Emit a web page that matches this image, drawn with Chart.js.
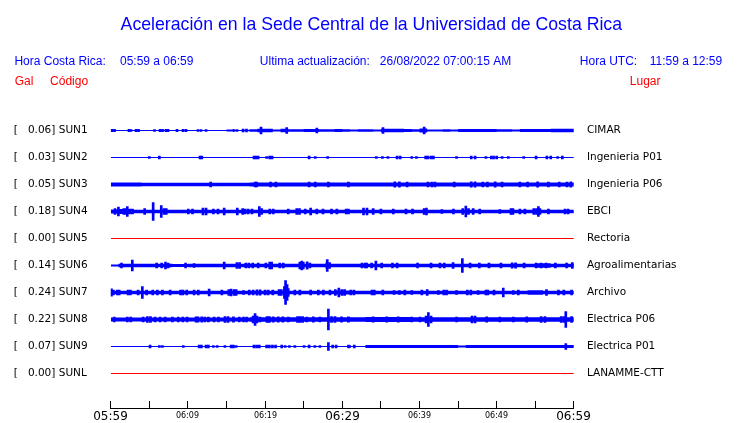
<!DOCTYPE html>
<html><head><meta charset="utf-8">
<script src="https://cdn.jsdelivr.net/npm/chart.js@4/dist/chart.umd.min.js"></script>
<style>html,body{margin:0;padding:0;background:#fff}#wrap{position:relative;width:740px;height:423px}</style>
</head><body><div id="wrap"><canvas id="c" width="740" height="423"></canvas></div>
<script>
// ---------- DATA ----------
const chartTitle = 'Aceleración en la Sede Central de la Universidad de Costa Rica';
const headerTexts = ['Hora Costa Rica:', '05:59 a 06:59', 'Ultima actualización:', '26/08/2022 07:00:15 AM', 'Hora UTC:', '11:59 a 12:59'];
const columnTexts = ['Gal', 'Código', 'Lugar'];
const stations = ['SUN1','SUN2','SUN3','SUN4','SUN5','SUN6','SUN7','SUN8','SUN9','SUNL'];
const places = ['CIMAR','Ingenieria P01','Ingenieria P06','EBCI','Rectoria','Agroalimentarias','Archivo','Electrica P06','Electrica P01','LANAMME-CTT'];
const peakGal = [0.06, 0.03, 0.05, 0.18, 0.00, 0.14, 0.24, 0.22, 0.07, 0.00];
const timeTickMinutes = [0,5,10,15,20,25,30,35,40,45,50,55,60];
const timeTickLabels = ['05:59','','06:09','','06:19','','06:29','','06:39','','06:49','','06:59'];

// trace envelopes (half amplitude per 1-minute bin, display counts)
const sun1Env = [0.5,0.5,0.5,0.5,0.5,0.5,0.5,0.5,0.5,0.5, 0.5,0.5,0.5,0.5,0.5,1.0,0.5,0.8,1.3,1.7,
                 1.7,1.1,1.8,1.2,1.3,1.4,1.6,1.3,1.2,1.4, 1.2,1.0,1.3,1.3,1.0,1.7,1.7,1.7,1.6,1.3,
                 2.0,1.0,1.0,1.3,1.0,1.5,1.5,1.5,1.5,1.5, 1.3,1.3,1.0,1.5,1.5,1.5,1.6,1.8,1.8,1.8];
const sun2Env = [0.5,0.5,0.5,0.5,0.5,0.5,0.5,0.5,0.5,0.5, 0.5,0.5,0.5,0.5,0.5,0.5,0.5,0.5,0.5,0.5,
                 0.5,0.5,0.5,0.5,0.5,0.5,0.5,0.5,0.5,0.5, 0.5,0.5,0.5,0.5,0.5,0.5,0.5,0.5,0.5,0.5,
                 0.5,0.5,0.5,0.5,0.5,0.5,0.5,0.5,0.5,0.5, 0.5,0.5,0.5,0.5,0.5,0.5,0.5,0.5,0.5,0.5];
const sun3Env = [2.0,2.0,2.0,1.9,1.7,1.7,1.7,1.7,1.7,1.7, 1.7,1.7,1.7,1.7,1.7,1.7,1.7,1.7,2.0,2.0,
                 2.0,2.0,2.0,2.0,2.0,2.0,2.0,2.0,2.0,2.0, 2.0,2.0,2.0,2.0,2.0,2.0,2.0,2.0,2.0,2.0,
                 2.0,2.0,2.0,2.0,2.0,2.0,2.0,2.0,2.0,2.0, 2.0,2.0,2.0,2.0,2.0,2.0,2.0,2.0,2.0,2.0];
const sun4Env = [2.0,2.5,2.5,1.7,1.7,1.7,1.7,1.7,1.7,1.7, 1.7,1.7,1.7,1.7,1.7,1.7,1.7,1.7,1.7,1.7,
                 1.7,1.7,1.7,1.7,1.7,1.7,1.7,1.7,1.7,1.7, 1.7,1.7,1.7,1.7,1.7,1.7,1.7,1.7,1.7,1.7,
                 1.7,1.7,1.7,1.7,1.7,1.7,1.7,1.7,1.7,1.7, 1.7,1.7,1.7,1.7,1.7,1.7,1.7,1.7,1.7,1.7];
const sun5Env = [0,0,0,0,0,0,0,0,0,0, 0,0,0,0,0,0,0,0,0,0, 0,0,0,0,0,0,0,0,0,0,
                 0,0,0,0,0,0,0,0,0,0, 0,0,0,0,0,0,0,0,0,0, 0,0,0,0,0,0,0,0,0,0];
const sun6Env = [1.1,1.8,1.7,1.7,1.7,1.7,1.7,1.7,1.5,1.5, 1.7,1.7,1.7,1.7,1.7,1.7,1.7,1.7,1.7,1.7,
                 1.7,1.7,1.7,1.7,1.7,1.7,1.7,1.7,1.7,1.7, 1.7,1.7,1.7,1.7,1.7,1.7,1.7,1.7,1.7,1.7,
                 1.7,1.7,1.7,1.7,1.7,1.7,1.7,1.7,1.7,1.7, 1.7,1.7,1.7,1.7,1.7,2.2,2.2,1.7,1.7,1.7];
const sun7Env = [1.7,1.7,1.7,1.7,1.7,1.7,1.7,1.7,1.7,1.7, 1.7,1.7,1.7,1.7,1.7,1.7,1.7,1.7,1.7,1.7,
                 1.7,1.7,1.7,1.7,1.7,1.7,1.7,1.7,1.7,2.0, 2.0,1.7,1.7,1.7,1.7,1.7,1.7,1.7,1.7,1.7,
                 1.7,1.7,1.7,1.7,1.7,1.7,1.7,1.7,1.7,1.7, 1.7,1.7,1.7,1.7,2.3,2.3,1.7,1.7,1.7,1.7];
const sun8Env = [2.0,2.0,2.0,2.0,2.0,2.0,2.0,2.0,2.0,2.0, 2.0,2.0,2.0,2.0,2.0,2.0,2.0,2.0,2.3,2.3,
                 2.3,2.3,2.3,2.3,2.3,2.3,2.3,2.3,2.3,2.3, 2.3,2.3,2.3,2.5,2.5,2.5,2.5,2.5,2.5,2.3,
                 2.3,2.3,2.3,2.3,2.3,2.3,2.3,2.3,2.3,2.3, 2.3,2.3,2.3,2.3,2.3,2.3,2.3,2.3,2.3,2.3];
const sun9Env = [0.5,0.5,0.5,0.5,0.5,0.5,0.5,0.5,0.5,0.5, 0.5,0.5,0.5,0.5,0.5,0.5,0.5,0.5,0.5,0.5,
                 0.5,0.5,0.5,0.5,0.5,0.5,0.5,0.5,0.5,0.5, 0.5,0.5,0.5,1.4,1.4,1.4,1.4,1.4,1.4,1.4,
                 1.4,1.4,1.4,1.4,1.4,1.1,1.5,1.5,1.5,1.5, 1.5,1.5,1.5,1.5,1.5,1.5,1.5,1.5,1.5,1.5];
const sunLEnv = [0,0,0,0,0,0,0,0,0,0, 0,0,0,0,0,0,0,0,0,0, 0,0,0,0,0,0,0,0,0,0,
                 0,0,0,0,0,0,0,0,0,0, 0,0,0,0,0,0,0,0,0,0, 0,0,0,0,0,0,0,0,0,0];

// short bursts: [minute after 05:59, half amplitude]
const sun1Spikes = [[0.17,1.2],[0.49,1.2],[2.37,1.2],[2.63,1.0],[3.28,1.2],[3.6,1.2],[5.67,1.0],[6.39,1.2],[6.71,1.2],[7.16,1.2],[7.42,1.2],[8.59,1.2],[9.37,1.2],[9.75,1.2],[11.31,1.0],[11.7,1.0],[12.35,1.0],[15.97,1.0],[16.36,1.0],[17.14,1.5],[17.59,1.5],[19.47,3.3],[22.8,3.0],[26.7,2.5],[35.27,3.0],[40.6,3.3]];
const sun2Spikes = [[5.0,1.0],[6.3,1.3],[11.57,1.3],[11.8,1.3],[18.56,1.3],[18.8,1.3],[19.1,1.3],[20.2,1.0],[20.6,1.5],[20.9,1.5],[25.7,1.3],[26.5,1.0],[28.1,1.0],[34.4,1.0],[35.2,1.0],[35.9,1.0],[37.1,1.3],[37.5,1.3],[39.0,1.0],[39.6,1.0],[40.8,1.3],[41.1,1.3],[41.5,1.3],[41.8,1.3],[44.8,1.0],[46.7,1.3],[47.2,1.3],[48.6,1.0],[49.3,1.3],[49.6,1.3],[50.0,1.3],[50.7,1.0],[51.5,1.0],[53.5,1.0],[55.1,1.3],[56.5,1.3],[57.0,1.3],[57.9,1.0],[58.5,1.3]];
const sun3Spikes = [[12.95,2.3],[18.7,2.5],[18.9,2.5],[20.7,2.5],[21.4,2.5],[25.7,2.5],[26.5,2.3],[28.2,2.5],[30.8,2.5],[36.8,2.7],[37.4,2.7],[38.4,2.5],[41.1,2.5],[41.6,2.5],[42.0,2.5],[44.5,2.3],[46.7,2.7],[47.2,2.7],[48.2,2.5],[48.8,2.5],[49.8,2.7],[50.7,2.5],[53.0,2.5],[54.0,2.5],[55.3,2.7],[56.7,2.5],[58.1,2.5],[59.1,2.5],[59.6,2.7]];
const sun4Spikes = [[0.56,3.0],[1.0,4.5],[1.7,3.0],[2.0,3.0],[2.15,5.0],[2.5,2.5],[2.8,2.5],[4.4,3.0],[5.5,9.0],[6.55,6.0],[6.9,3.0],[7.2,3.0],[10.05,2.5],[10.6,2.5],[11.95,3.5],[12.35,3.5],[13.3,2.5],[13.9,2.5],[14.7,3.5],[16.4,3.5],[17.1,3.0],[17.4,2.5],[17.8,2.5],[18.3,2.5],[19.25,5.0],[19.55,3.0],[20.6,2.5],[21.05,2.5],[23.0,2.5],[24.1,3.0],[24.45,3.0],[25.2,2.5],[25.9,3.5],[26.7,2.5],[27.5,2.5],[28.6,2.5],[29.3,2.5],[30.5,2.5],[30.8,2.5],[32.75,3.3],[33.2,3.3],[34.0,3.0],[35.0,2.5],[36.6,2.5],[38.25,2.5],[39.1,2.5],[40.6,3.0],[40.9,3.5],[42.9,2.0],[44.4,2.5],[45.6,3.0],[46.0,5.5],[46.35,3.0],[46.95,3.0],[47.8,2.5],[50.4,2.0],[51.85,3.0],[52.1,3.0],[53.0,2.5],[53.65,2.5],[54.8,3.0],[55.15,3.0],[55.4,5.0],[55.6,3.0],[56.7,2.5],[58.85,2.5],[59.25,2.5]];
const sun5Spikes = [];
const sun6Spikes = [[1.4,2.5],[2.8,5.3],[5.95,2.3],[6.6,2.3],[7.1,3.3],[7.45,2.5],[9.7,2.3],[10.8,2.0],[14.7,3.5],[16.35,3.0],[16.7,3.0],[17.5,2.5],[17.9,2.5],[18.4,2.3],[19.1,2.5],[20.1,2.3],[20.6,3.5],[20.85,3.5],[21.9,2.5],[22.35,2.5],[24.5,3.5],[24.75,4.5],[24.95,3.5],[25.45,3.7],[25.8,2.3],[28.0,3.0],[28.05,6.0],[28.35,3.0],[32.55,2.5],[32.95,2.5],[33.15,2.3],[33.8,2.3],[34.35,4.5],[35.1,2.3],[36.5,2.5],[37.1,2.3],[39.75,2.5],[41.5,2.5],[42.65,2.3],[43.2,2.3],[44.35,3.0],[45.55,7.0],[46.55,2.5],[47.75,2.3],[49.0,2.5],[50.55,2.5],[52.0,2.7],[52.45,2.7],[53.55,2.3],[55.1,2.5],[55.75,2.5],[56.4,2.5],[57.6,2.5],[59.05,2.3],[59.8,3.0]];
const sun7Spikes = [[0.1,3.7],[0.35,2.3],[0.85,2.3],[1.1,2.3],[2.25,2.5],[2.55,2.5],[3.55,2.3],[4.1,5.8],[4.65,2.3],[5.45,2.3],[6.05,2.3],[6.7,2.3],[7.7,2.3],[9.05,2.5],[9.35,2.5],[9.85,2.3],[10.8,2.3],[11.35,2.5],[12.75,3.3],[14.4,2.3],[15.3,2.8],[15.6,3.5],[16.0,3.0],[16.25,2.8],[17.2,2.0],[17.95,2.5],[18.45,2.5],[18.95,2.7],[19.35,2.7],[20.0,2.5],[20.4,2.3],[21.0,2.5],[21.8,3.0],[22.1,3.0],[22.5,6.0],[22.65,12.0],[22.85,8.0],[23.0,4.0],[23.85,2.3],[24.5,2.3],[25.9,2.5],[26.9,2.5],[27.55,2.3],[28.4,2.3],[29.1,3.0],[29.55,4.5],[29.95,3.0],[30.3,3.0],[31.1,2.3],[31.5,2.3],[33.85,2.5],[34.15,2.5],[35.25,2.3],[36.7,2.0],[37.4,2.0],[38.1,2.3],[39.0,2.0],[40.3,2.5],[41.0,3.0],[42.45,2.0],[43.15,2.5],[43.5,2.5],[44.8,2.0],[46.2,2.3],[46.65,2.3],[47.6,2.0],[48.6,2.5],[48.85,2.5],[49.65,2.3],[50.85,4.5],[52.15,2.0],[52.8,2.3],[56.45,3.0],[58.0,2.3],[58.7,2.3],[59.7,2.5]];
const sun8Spikes = [[0.45,2.3],[2.15,2.3],[2.6,2.3],[4.2,2.3],[4.75,3.0],[5.15,3.0],[5.75,2.5],[6.4,2.5],[7.05,2.3],[8.0,2.3],[8.75,2.5],[9.35,2.5],[9.9,2.5],[11.05,2.7],[11.3,2.7],[11.8,2.7],[12.2,2.5],[12.65,2.5],[13.4,2.3],[13.95,2.5],[14.8,2.8],[15.2,2.8],[15.9,2.7],[16.65,2.3],[17.2,2.3],[17.6,2.3],[18.45,3.5],[18.7,5.8],[18.95,3.5],[19.35,2.5],[20.25,3.0],[20.55,3.0],[21.05,2.7],[21.7,2.7],[22.3,2.7],[23.0,2.5],[24.2,3.0],[24.5,3.0],[24.85,3.0],[25.4,2.5],[26.25,2.7],[27.1,2.5],[28.2,10.3],[28.6,3.0],[29.05,3.0],[29.9,2.7],[30.8,2.7],[34.0,2.7],[35.75,2.7],[37.25,2.7],[39.0,2.5],[40.05,2.5],[40.85,3.5],[41.15,7.0],[41.5,3.5],[44.8,2.5],[46.8,3.5],[47.2,3.5],[48.7,2.7],[50.4,2.5],[52.15,2.5],[53.9,2.7],[55.75,3.0],[56.25,3.0],[58.35,3.0],[58.7,3.0],[58.95,7.8],[59.7,3.0]];
const sun9Spikes = [[5.1,1.3],[6.3,1.0],[6.7,0.8],[9.4,1.0],[11.45,1.3],[11.75,1.3],[12.35,1.3],[12.65,1.3],[13.3,0.8],[13.8,0.8],[14.8,0.8],[15.6,1.3],[15.9,1.3],[16.25,1.0],[18.55,1.5],[18.9,1.5],[19.25,1.5],[20.2,1.3],[20.55,1.3],[20.95,1.3],[21.35,1.3],[22.15,1.3],[22.6,1.0],[23.15,0.8],[23.85,0.8],[25.05,1.0],[25.7,1.3],[26.45,1.0],[27.1,1.0],[28.2,4.0],[28.75,1.3],[29.2,1.3],[30.8,1.3],[30.95,1.0],[31.55,1.3],[58.95,3.0]];
const sunLSpikes = [];

const envelopes = [sun1Env,sun2Env,sun3Env,sun4Env,sun5Env,sun6Env,sun7Env,sun8Env,sun9Env,sunLEnv];
const spikes = [sun1Spikes,sun2Spikes,sun3Spikes,sun4Spikes,sun5Spikes,sun6Spikes,sun7Spikes,sun8Spikes,sun9Spikes,sunLSpikes];

// ---------- BUILD ----------
const SPACING = 27;      // vertical distance between traces (display counts)
const MIN_HALF = 0.5;    // minimum half-thickness so flat traces stay visible
const BLUE = '#0000ff', RED = '#ff0000';
// plot box: top 117 px, bottom 403.7 px (bottom is set by the right axis label padding)
const Y_MIN = -13.5, Y_MAX = 273.2;

const leftLabels = stations.map((s, i) => '[' + peakGal[i].toFixed(2).padStart(7) + '] ' + s);

const datasets = [];
stations.forEach((st, i) => {
  const c = i * SPACING;
  const env = envelopes[i];
  const color = peakGal[i] === 0 ? RED : BLUE;
  const pts = sign => env.map((a, k) => ({x: k, y: c + sign * Math.max(a, MIN_HALF)}))
                         .concat([{x: env.length, y: c + sign * Math.max(env[env.length - 1], MIN_HALF)}]);
  datasets.push({type: 'line', data: pts(-1), stepped: true, borderWidth: 0, borderColor: 'rgba(0,0,0,0)',
                 pointRadius: 0, fill: false, backgroundColor: color});
  datasets.push({type: 'line', data: pts(1), stepped: true, borderWidth: 0, borderColor: 'rgba(0,0,0,0)',
                 pointRadius: 0, fill: '-1', backgroundColor: color});
  datasets.push({type: 'bar', data: spikes[i].map(([t, a]) => ({x: t, y: [c - a, c + a]})),
                 backgroundColor: color, borderWidth: 0, barThickness: 2, grouped: false});
});

const overlay = {
  id: 'overlay',
  afterDraw(chart) {
    const ctx = chart.ctx, xs = chart.scales.x;
    ctx.save();
    ctx.textBaseline = 'alphabetic';
    // title
    ctx.fillStyle = BLUE;
    ctx.font = '17.7px "Liberation Sans", Arial, sans-serif';
    ctx.textAlign = 'center';
    ctx.fillText(chartTitle, 371.3, 30);
    // header
    ctx.font = '12px "Liberation Sans", Arial, sans-serif';
    ctx.textAlign = 'left';
    const hx = [14.4, 120, 259.8, 379.8, 579.8, 649.7];
    headerTexts.forEach((t, k) => ctx.fillText(t, hx[k], 65.3));
    ctx.fillStyle = RED;
    const cx = [14.7, 50.1, 629.8];
    columnTexts.forEach((t, k) => ctx.fillText(t, cx[k], 85));
    // time axis
    ctx.strokeStyle = '#000'; ctx.lineWidth = 1; ctx.fillStyle = '#000';
    const x0 = Math.floor(xs.getPixelForValue(timeTickMinutes[0])) + 0.5;
    const x1 = Math.floor(xs.getPixelForValue(timeTickMinutes[timeTickMinutes.length - 1])) + 0.5;
    ctx.beginPath(); ctx.moveTo(x0, 408.5); ctx.lineTo(x1 + 0.5, 408.5); ctx.stroke();
    ctx.textAlign = 'center';
    timeTickMinutes.forEach((m, k) => {
      const px = Math.floor(xs.getPixelForValue(m)) + 0.5;
      ctx.beginPath(); ctx.moveTo(px, 401); ctx.lineTo(px, 409); ctx.stroke();
      const lab = timeTickLabels[k];
      if (!lab) return;
      const big = (k % 6 === 0);
      ctx.font = (big ? '12px' : '8px') + ' "DejaVu Sans", sans-serif';
      ctx.fillText(lab, px, big ? 420 : 417.5);
    });
    ctx.restore();
  }
};

const tickFont = {family: '"DejaVu Sans", sans-serif', size: 10.5};
new Chart(document.getElementById('c'), {
  type: 'bar',
  data: {datasets},
  plugins: [overlay],
  options: {
    responsive: false, animation: false, devicePixelRatio: 1,
    layout: {padding: {left: 13.8, right: 0, top: 117, bottom: 19.3}},
    plugins: {legend: {display: false}, tooltip: {enabled: false}, title: {display: false}},
    scales: {
      x: {type: 'linear', min: 0, max: 60, offset: false, display: false},
      y: {type: 'linear', position: 'left', reverse: true, min: Y_MIN, max: Y_MAX,
          grid: {display: false, drawTicks: false}, border: {display: false},
          afterBuildTicks: s => { s.ticks = stations.map((_, i) => ({value: i * SPACING})); },
          afterFit: s => { s.width = 96.9; },
          ticks: {autoSkip: false, crossAlign: 'far', padding: 0, color: '#000', font: tickFont,
                  callback: (v, idx) => leftLabels[idx]}},
      y2: {type: 'linear', position: 'right', reverse: true, min: Y_MIN, max: Y_MAX,
          grid: {display: false, drawTicks: false}, border: {display: false},
          afterBuildTicks: s => { s.ticks = stations.map((_, i) => ({value: i * SPACING})); },
          afterFit: s => { s.width = 166.1; },
          ticks: {autoSkip: false, crossAlign: 'near', padding: 13, color: '#000', font: tickFont,
                  callback: (v, idx) => places[idx]}}
    }
  }
});
</script>
</body></html>
